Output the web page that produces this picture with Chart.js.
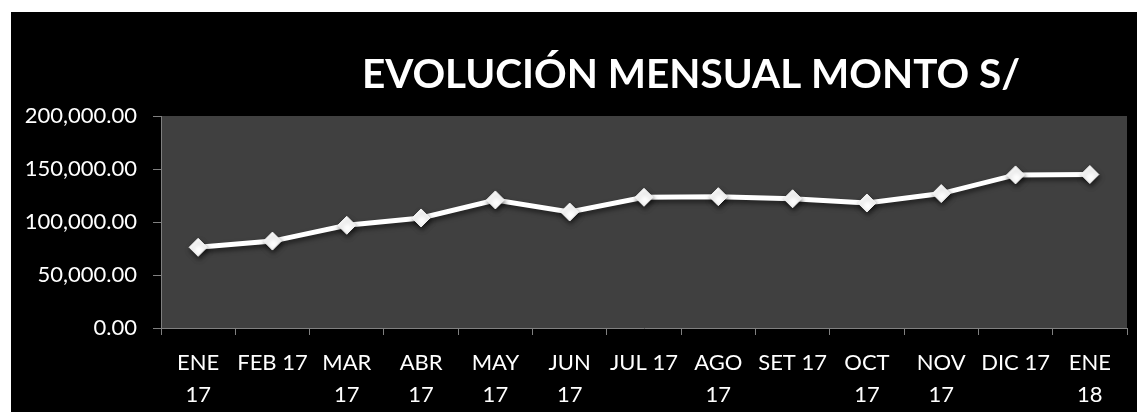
<!DOCTYPE html>
<html>
<head>
<meta charset="utf-8">
<script src="https://cdn.jsdelivr.net/npm/chart.js@4/dist/chart.umd.min.js"></script>
<style>
  html, body { margin: 0; padding: 0; background: #ffffff; }
  #wrap { position: absolute; left: 11px; top: 12px; width: 1126px; height: 400px; background: #000000; }
  canvas { display: block; }
</style>
</head>
<body>
<div id="wrap"><canvas id="c" width="1126" height="400"></canvas></div>
<script>
const titleText = 'EVOLUCIÓN MENSUAL MONTO S/';
const categories = [
  ['ENE', '17'], 'FEB 17', ['MAR', '17'], ['ABR', '17'], ['MAY', '17'], ['JUN', '17'],
  'JUL 17', ['AGO', '17'], 'SET 17', ['OCT', '17'], ['NOV', '17'], 'DIC 17', ['ENE', '18']
];
const montos = [76100, 82000, 96900, 103800, 120800, 109400, 123300, 123900, 121900, 117900, 126800, 144400, 144800];
const yTicks = [0, 50000, 100000, 150000, 200000];

const fontFamily = 'Lato, "Open Sans", sans-serif';

const plotBg = {
  id: 'plotBg',
  beforeDraw(chart) {
    const { ctx, chartArea: a } = chart;
    ctx.save();
    ctx.fillStyle = '#404040';
    ctx.fillRect(a.left, a.top, a.right - a.left, a.bottom - a.top);
    ctx.restore();
  }
};

const titlePlugin = {
  id: 'customTitle',
  afterDraw(chart) {
    const ctx = chart.ctx;
    ctx.save();
    let size = 42;
    ctx.font = 'bold ' + size + 'px ' + fontFamily;
    const w = ctx.measureText(titleText).width;
    size = size * 658 / w;
    ctx.font = 'bold ' + size.toFixed(2) + 'px ' + fontFamily;
    ctx.fillStyle = '#ffffff';
    ctx.textAlign = 'center';
    ctx.textBaseline = 'alphabetic';
    ctx.fillText(titleText, 680, 76);
    ctx.restore();
  }
};

const shadowPlugin = {
  id: 'lineShadow',
  beforeDatasetDraw(chart) {
    const ctx = chart.ctx;
    ctx.save();
    ctx.shadowColor = 'rgba(0,0,0,0.55)';
    ctx.shadowBlur = 5;
    ctx.shadowOffsetX = 1;
    ctx.shadowOffsetY = 3;
  },
  afterDatasetDraw(chart) {
    chart.ctx.restore();
  }
};

new Chart(document.getElementById('c'), {
  type: 'line',
  data: {
    labels: categories,
    datasets: [{
      data: montos,
      borderColor: '#ffffff',
      backgroundColor: '#ffffff',
      borderWidth: 5,
      pointStyle: 'rectRot',
      pointRadius: 9,
      pointBorderWidth: 1,
      pointBorderColor: '#f2f2f2',
      pointBackgroundColor: '#ffffff',
      tension: 0,
      fill: false
    }]
  },
  options: {
    responsive: false,
    animation: false,
    devicePixelRatio: 1,
    layout: { padding: { top: 104, left: 0, right: 1, bottom: 0 } },
    plugins: { legend: { display: false }, tooltip: { enabled: false }, title: { display: false } },
    scales: {
      x: {
        offset: true,
        grid: { display: true, drawOnChartArea: false, offset: true, color: '#808080', tickLength: 7, tickColor: '#808080' },
        border: { display: true, color: '#808080', width: 1 },
        ticks: { color: '#ffffff', font: { family: fontFamily, size: 22, lineHeight: 1.45 }, padding: 12, maxRotation: 0, autoSkip: false },
        afterFit(s) { s.height = 84; }
      },
      y: {
        min: 0, max: 200000,
        afterBuildTicks(s) { s.ticks = yTicks.map(v => ({ value: v })); },
        grid: { display: true, drawOnChartArea: false, color: '#808080', tickLength: 8, tickColor: '#808080' },
        border: { display: true, color: '#808080', width: 1 },
        ticks: {
          color: '#ffffff', font: { family: fontFamily, size: 22 }, padding: 16,
          callback: v => v.toLocaleString('en-US', { minimumFractionDigits: 2, maximumFractionDigits: 2 })
        },
        afterFit(s) { s.width = 150; }
      }
    }
  },
  plugins: [plotBg, shadowPlugin, titlePlugin]
});
</script>
</body>
</html>
